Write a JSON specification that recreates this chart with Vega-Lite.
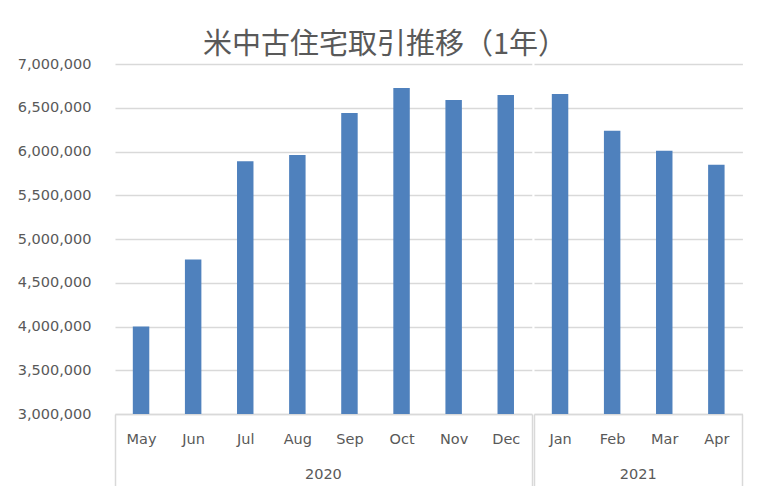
{
  "$schema": "https://vega.github.io/schema/vega-lite/v6.json",
  "padding": {"left": 17, "top": 31, "right": 22, "bottom": 0},
  "background": "white",
  "title": {"text": "米中古住宅取引推移（1年）", "font": "Noto Sans CJK JP", "fontSize": 29, "fontWeight": "normal", "color": "#595959", "anchor": "middle", "frame": "bounds", "offset": -4, "dx": 5},
  "data": {"values": [
    {"year": "2020", "month": "May", "sales": 4000000},
    {"year": "2020", "month": "Jun", "sales": 4765000},
    {"year": "2020", "month": "Jul", "sales": 5890000},
    {"year": "2020", "month": "Aug", "sales": 5960000},
    {"year": "2020", "month": "Sep", "sales": 6440000},
    {"year": "2020", "month": "Oct", "sales": 6726000},
    {"year": "2020", "month": "Nov", "sales": 6589000},
    {"year": "2020", "month": "Dec", "sales": 6646000},
    {"year": "2021", "month": "Jan", "sales": 6658000},
    {"year": "2021", "month": "Feb", "sales": 6237000},
    {"year": "2021", "month": "Mar", "sales": 6008000},
    {"year": "2021", "month": "Apr", "sales": 5848000}
  ]},
  "facet": {"column": {"field": "year", "type": "ordinal", "header": {"title": null, "labelOrient": "bottom", "labelFont": "DejaVu Sans", "labelFontSize": 14.5, "labelColor": "#595959", "labelPadding": -19}}},
  "spacing": 0,
  "resolve": {"scale": {"x": "independent"}},
  "spec": {
    "width": {"step": 52.1},
    "height": 350,
    "mark": {"type": "bar", "width": {"band": 0.316}, "color": "#4F81BD", "clip": true},
    "encoding": {
      "x": {"field": "month", "type": "nominal", "sort": null, "title": null,
        "scale": {"paddingInner": 0, "paddingOuter": 0},
        "axis": {"labelAngle": 0, "labelFont": "DejaVu Sans", "labelFontSize": 14.5, "labelColor": "#595959", "labelPadding": -54,
          "domainColor": "#d9d9d9", "domainWidth": 1.5, "grid": false,
          "ticks": true, "tickBand": "extent", "tickSize": 72, "tickWidth": 1.5,
          "tickColor": {"condition": {"test": "datum.extra || datum.value === 'Dec' || datum.value === 'Apr'", "value": "#d9d9d9"}, "value": "rgba(0,0,0,0)"}}},
      "y": {"field": "sales", "type": "quantitative", "title": null,
        "scale": {"domain": [3000000, 7000000], "nice": false},
        "axis": {"values": [3000000, 3500000, 4000000, 4500000, 5000000, 5500000, 6000000, 6500000, 7000000], "format": ",.0f", "labelFont": "DejaVu Sans", "labelFontSize": 14.5, "labelColor": "#595959", "labelPadding": 23, "ticks": false, "domain": false, "gridColor": "#d9d9d9", "gridWidth": 1.5}}
    }
  },
  "config": {"view": {"stroke": null}}
}
